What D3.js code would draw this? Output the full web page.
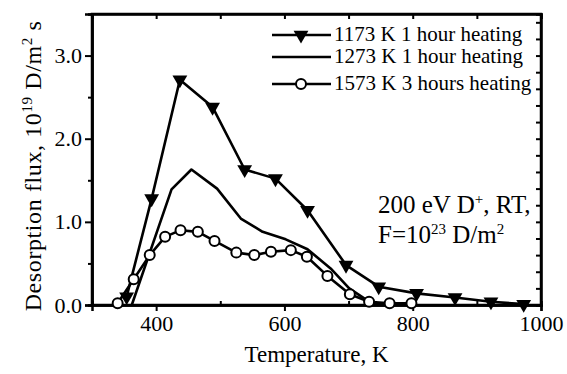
<!DOCTYPE html>
<html><head><meta charset="utf-8">
<script src="https://cdn.jsdelivr.net/npm/d3@7"></script>
<style>body{margin:0;background:#fff}svg{display:block}text{font-family:"Liberation Serif","Times New Roman",serif;fill:#000}</style>
</head><body><svg id="c" width="567" height="374"></svg>
<script>
// Data (Temperature K, desorption flux 1e19 D/m^2 s)
const s1173T = [354, 393, 437, 488, 538, 586, 636, 696, 747, 806, 866, 922, 973];
const s1173V = [0.10, 1.28, 2.71, 2.38, 1.63, 1.52, 1.14, 0.48, 0.22, 0.14, 0.09, 0.04, 0.01];
const s1273T = [362, 424, 455, 495, 532, 566, 602, 636, 672, 701, 732, 760];
const s1273V = [0.00, 1.39, 1.63, 1.40, 1.04, 0.88, 0.79, 0.67, 0.44, 0.20, 0.04, 0.00];
const s1573T = [340, 365, 390, 414, 438, 465, 491, 525, 553, 579, 610, 635, 667, 702, 732, 764, 798];
const s1573V = [0.02, 0.31, 0.60, 0.82, 0.90, 0.88, 0.77, 0.63, 0.60, 0.64, 0.66, 0.58, 0.35, 0.13, 0.04, 0.02, 0.02];
const legendLabels = ["1173 K 1 hour heating", "1273 K 1 hour heating", "1573 K 3 hours heating"];
const xTicks = [400, 600, 800, 1000];
const yTicks = [0, 1, 2, 3];

const svg = d3.select("#c");
const L = 92, R = 541, T = 14, B = 305;
const x = d3.scaleLinear().domain([300, 1000]).range([L, R]);
const y = d3.scaleLinear().domain([0, 3.5]).range([B, T]);

// Axes
const gx = svg.append("g").attr("transform", `translate(0,${B})`)
  .call(d3.axisBottom(x).tickValues(xTicks).tickSize(6).tickPadding(4).tickFormat(d3.format("d")));
const gxm = svg.append("g").attr("transform", `translate(0,${B})`)
  .call(d3.axisTop(x).tickValues([300,500,700,900]).tickSize(4).tickFormat(""));
const gt = svg.append("g").attr("transform", `translate(0,${T})`)
  .call(d3.axisBottom(x).tickValues(d3.range(300, 1001, 100)).tickSize(5).tickFormat(""));
const gy = svg.append("g").attr("transform", `translate(${L},0)`)
  .call(d3.axisLeft(y).tickValues(yTicks).tickSize(7).tickPadding(3).tickFormat(d3.format(".1f")));
const gym = svg.append("g").attr("transform", `translate(${L},0)`)
  .call(d3.axisLeft(y).tickValues([0.5,1.5,2.5]).tickSize(4).tickFormat(""));
const gr = svg.append("g").attr("transform", `translate(${R},0)`)
  .call(d3.axisLeft(y).tickValues(d3.range(0, 3.45, 0.2)).tickSize(5).tickFormat(""));
[gx,gxm,gt,gy,gym,gr].forEach(g=>{
  g.selectAll(".domain").attr("stroke","#000").attr("stroke-width",2.5);
  g.selectAll(".tick line").attr("stroke","#000").attr("stroke-width",2);
});
gx.selectAll("text").attr("font-size",22).attr("font-family","Liberation Serif");
gy.selectAll("text").attr("font-size",22).attr("font-family","Liberation Serif");
// frame
svg.append("rect").attr("x",L).attr("y",T).attr("width",R-L).attr("height",B-T)
  .attr("fill","none").attr("stroke","#000").attr("stroke-width",2.5);

const line = d3.line().x(d=>x(d[0])).y(d=>y(d[1]));
const d1 = s1173T.map((t,i)=>[t,s1173V[i]]);
const d2 = s1273T.map((t,i)=>[t,s1273V[i]]);
const d3d = s1573T.map((t,i)=>[t,s1573V[i]]);
[d1,d2,d3d].forEach(d=>svg.append("path").datum(d).attr("d",line)
  .attr("fill","none").attr("stroke","#000").attr("stroke-width",2.6).attr("stroke-linejoin","round"));
const tri = d3.symbol().type(d3.symbolTriangle).size(95);
svg.selectAll(".tri").data(d1).join("path").attr("class","tri")
  .attr("d",tri).attr("transform",d=>`translate(${x(d[0])},${y(d[1])}) rotate(180)`).attr("fill","#000");
svg.selectAll(".cir").data(d3d).join("circle").attr("class","cir")
  .attr("cx",d=>x(d[0])).attr("cy",d=>y(d[1])).attr("r",5).attr("fill","#fff").attr("stroke","#000").attr("stroke-width",2);

// Legend
const lgY = [35, 57, 84];
lgY.forEach((yy,i)=>{
  svg.append("line").attr("x1",272).attr("x2",331).attr("y1",yy).attr("y2",yy).attr("stroke","#000").attr("stroke-width",2.6);
  if(i===0) svg.append("path").attr("d",tri).attr("transform",`translate(301,${yy}) rotate(180)`).attr("fill","#000");
  if(i===2) svg.append("circle").attr("cx",301).attr("cy",yy).attr("r",5).attr("fill","#fff").attr("stroke","#000").attr("stroke-width",2);
  svg.append("text").attr("x",334).attr("y",yy+6).attr("font-size",21).text(legendLabels[i]);
});

// Annotation
const a1 = svg.append("text").attr("x",378).attr("y",213).attr("font-size",25);
a1.append("tspan").text("200 eV D");
a1.append("tspan").attr("dy",-9).attr("font-size",15).text("+");
a1.append("tspan").attr("dy",9).text(", RT,");
const a2 = svg.append("text").attr("x",378).attr("y",243).attr("font-size",25);
a2.append("tspan").text("F=10");
a2.append("tspan").attr("dy",-9).attr("font-size",15).text("23");
a2.append("tspan").attr("dy",9).text(" D/m");
a2.append("tspan").attr("dy",-9).attr("font-size",15).text("2");

// Axis titles
svg.append("text").attr("x",(L+R)/2-0).attr("y",362).attr("text-anchor","middle").attr("font-size",23).text("Temperature, K");
const yt = svg.append("text").attr("transform","translate(41,166) rotate(-90)").attr("text-anchor","middle").attr("font-size",24).attr("letter-spacing",0.6);
yt.append("tspan").text("Desorption flux, 10");
yt.append("tspan").attr("dy",-9).attr("font-size",15).text("19");
yt.append("tspan").attr("dy",9).text(" D/m");
yt.append("tspan").attr("dy",-9).attr("font-size",15).text("2");
yt.append("tspan").attr("dy",9).text(" s");
</script></body></html>
